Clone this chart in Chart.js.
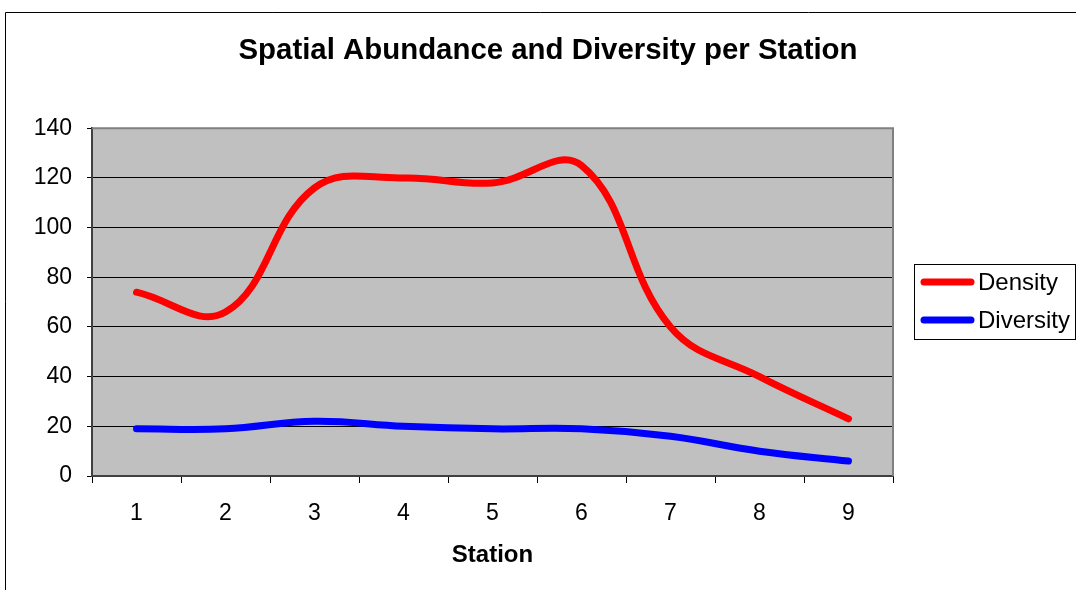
<!DOCTYPE html>
<html>
<head>
<meta charset="utf-8">
<script src="https://cdn.jsdelivr.net/npm/chart.js@4.4.1/dist/chart.umd.min.js"></script>
<style>
  html, body { margin: 0; padding: 0; background: #fff; }
  #wrap { width: 1076px; height: 590px; position: relative; }
</style>
</head>
<body>
<div id="wrap"><canvas id="c" width="1076" height="590"></canvas></div>
<script>
const stations = ['1', '2', '3', '4', '5', '6', '7', '8', '9'];
const density = [74, 66, 116, 120, 118, 125, 60, 40, 23];
const diversity = [19, 19, 22, 20, 19, 19, 16, 10, 6];
const yTicks = [0, 20, 40, 60, 80, 100, 120, 140];

const FONT = "'Liberation Sans', Arial, sans-serif";

const framePlugin = {
  id: 'frame',
  beforeDraw(chart) {
    const ctx = chart.ctx;
    const a = chart.chartArea;
    ctx.save();
    ctx.strokeStyle = '#000';
    ctx.lineWidth = 1;
    ctx.beginPath();
    ctx.moveTo(5.5, 590);
    ctx.lineTo(5.5, 12.5);
    ctx.lineTo(1076, 12.5);
    ctx.stroke();
    ctx.fillStyle = '#C0C0C0';
    ctx.fillRect(a.left, a.top, a.right - a.left, a.bottom - a.top);
    ctx.restore();
  },
  afterDraw(chart) {
    const ctx = chart.ctx;
    const a = chart.chartArea;
    ctx.save();
    ctx.strokeStyle = '#808080';
    ctx.lineWidth = 2;
    ctx.beginPath();
    ctx.moveTo(a.left, a.top);
    ctx.lineTo(a.right, a.top);
    ctx.lineTo(a.right, a.bottom);
    ctx.stroke();
    // legend
    const lx = 914.5, ly = 264.5, lw = 161, lh = 75;
    ctx.strokeStyle = '#000';
    ctx.lineWidth = 1;
    ctx.strokeRect(lx, ly, lw, lh);
    const rows = [282, 320];
    chart.data.datasets.forEach((ds, i) => {
      const y = rows[i];
      ctx.strokeStyle = ds.borderColor;
      ctx.lineWidth = 7;
      ctx.lineCap = 'round';
      ctx.beginPath();
      ctx.moveTo(924, y);
      ctx.lineTo(971, y);
      ctx.stroke();
      ctx.fillStyle = '#000';
      ctx.font = '24px ' + FONT;
      ctx.textBaseline = 'middle';
      ctx.textAlign = 'left';
      ctx.fillText(ds.label, 978, y + 1);
    });
    ctx.restore();
  }
};

new Chart(document.getElementById('c'), {
  type: 'line',
  data: {
    labels: stations,
    datasets: [
      { label: 'Density', data: density, borderColor: '#FF0000', borderWidth: 7, tension: 0.4,
        pointRadius: 0, borderCapStyle: 'round', borderJoinStyle: 'round', fill: false },
      { label: 'Diversity', data: diversity, borderColor: '#0000FF', borderWidth: 7, tension: 0.4,
        pointRadius: 0, borderCapStyle: 'round', borderJoinStyle: 'round', fill: false }
    ]
  },
  options: {
    responsive: false,
    animation: false,
    layout: { padding: { left: 20, right: 0, top: 0, bottom: 0 } },
    plugins: {
      legend: { display: false },
      tooltip: { enabled: false },
      title: {
        display: true,
        text: 'Spatial Abundance and Diversity per Station',
        color: '#000',
        font: { family: FONT, size: 29.4, weight: 'bold' },
        padding: { top: 33, bottom: 60 }
      }
    },
    scales: {
      x: {
        offset: true,
        grid: { offset: true, drawOnChartArea: false, drawTicks: true, tickLength: 7, color: '#000', lineWidth: 1 },
        border: { display: true, color: '#404040', width: 2 },
        ticks: { color: '#000', font: { family: FONT, size: 23 }, padding: 17, maxRotation: 0 },
        title: { display: true, text: 'Station', color: '#000', font: { family: FONT, size: 24, weight: 'bold' }, padding: { top: 0, bottom: 20 } },
        afterFit(scale) { scale.height = 114; }
      },
      y: {
        min: 0, max: 140,
        afterBuildTicks(scale) { scale.ticks = yTicks.map(v => ({ value: v })); },
        grid: { color: '#000', lineWidth: 1, drawTicks: true, tickLength: 5 },
        border: { display: true, color: '#404040', width: 2 },
        ticks: { color: '#000', font: { family: FONT, size: 23 }, padding: 15 },
        afterFit(scale) { scale.width = 72; }
      },
      legendSpace: {
        type: 'linear',
        position: 'right',
        display: true,
        grid: { drawOnChartArea: false, drawTicks: false, display: false },
        border: { display: false },
        ticks: { display: false },
        afterFit(scale) { scale.width = 183; }
      }
    }
  },
  plugins: [framePlugin]
});
</script>
</body>
</html>
